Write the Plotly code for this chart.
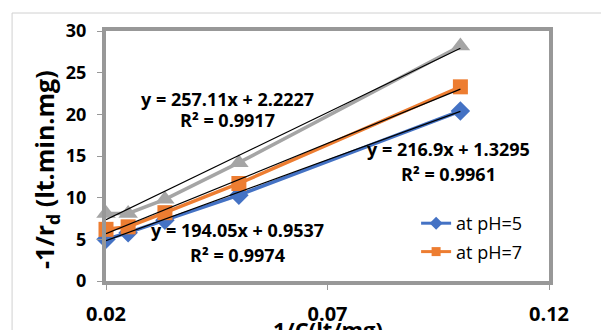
import plotly.graph_objects as go

x_vals = [0.02, 0.025, 0.0333, 0.05, 0.1]
ph5 = [5.0, 5.8, 7.3, 10.3, 20.4]
ph7 = [6.2, 6.5, 8.2, 11.7, 23.3]
ph9 = [8.1, 8.1, 9.8, 14.2, 28.2]

fits = {
    "ph5": (194.05, 0.9537),
    "ph7": (216.9, 1.3295),
    "ph9": (257.11, 2.2227),
}
x_tickvals = [0.02, 0.07, 0.12]
y_tickvals = [0, 5, 10, 15, 20, 25, 30]

BLUE = "#4472C4"
ORANGE = "#ED7D31"
GRAY = "#A5A5A5"
FONT = "Open Sans"

fig = go.Figure()
fig.add_trace(go.Scatter(x=x_vals, y=ph9, mode="lines+markers", name="at pH=9",
                         line=dict(color=GRAY, width=3.5), cliponaxis=False,
                         marker=dict(symbol="triangle-up", size=17, color=GRAY),
                         showlegend=False))
fig.add_trace(go.Scatter(x=x_vals, y=ph5, mode="lines+markers", name="at pH=5",
                         line=dict(color=BLUE, width=3.5), cliponaxis=False,
                         marker=dict(symbol="diamond", size=15, color=BLUE),
                         showlegend=False))
fig.add_trace(go.Scatter(x=x_vals, y=ph7, mode="lines+markers", name="at pH=7",
                         line=dict(color=ORANGE, width=3.5), cliponaxis=False,
                         marker=dict(symbol="square", size=15, color=ORANGE),
                         showlegend=False))

# legend entries (smaller symbols, as in the reference legend)
fig.add_trace(go.Scatter(x=[None], y=[None], mode="lines+markers", name="at pH=5",
                         legendgroup="a", line=dict(color=BLUE, width=3),
                         marker=dict(symbol="diamond", size=10, color=BLUE)))
fig.add_trace(go.Scatter(x=[None], y=[None], mode="lines+markers", name="at pH=7",
                         legendgroup="b", line=dict(color=ORANGE, width=3),
                         marker=dict(symbol="square", size=9, color=ORANGE)))

# trendlines
for key in ["ph9", "ph7", "ph5"]:
    m, b = fits[key]
    xs = [x_vals[0], x_vals[-1]]
    fig.add_trace(go.Scatter(x=xs, y=[m * v + b for v in xs], mode="lines",
                             line=dict(color="black", width=1.2), showlegend=False,
                             cliponaxis=False, hoverinfo="skip"))

ann_font = dict(family=FONT, size=18, color="black")
annotations = [
    dict(x=0.0474, y=21.84, text="<b>y = 257.11x + 2.2227</b>"),
    dict(x=0.0474, y=19.32, text="<b>R² = 0.9917</b>"),
    dict(x=0.0497, y=6.18, text="<b>y = 194.05x + 0.9537</b>"),
    dict(x=0.0497, y=3.12, text="<b>R² = 0.9974</b>"),
    dict(x=0.0974, y=15.84, text="<b>y = 216.9x + 1.3295</b>"),
    dict(x=0.0974, y=12.84, text="<b>R² = 0.9961</b>"),
]
anns = []
for a in annotations:
    anns.append(dict(x=a["x"], y=a["y"], xref="x", yref="y", text=a["text"],
                     showarrow=False, font=ann_font, xanchor="center", yanchor="middle"))

# axis titles
anns.append(dict(x=-0.135, y=0.445, xref="paper", yref="paper",
                 text="<b>-1/r<sub>d</sub> (lt.min.mg)</b>", textangle=-90,
                 showarrow=False, font=dict(family=FONT, size=25, color="black"),
                 xanchor="center", yanchor="middle"))
anns.append(dict(x=0.5, y=-0.125, xref="paper", yref="paper",
                 text="<b>1/C(lt/mg)</b>", showarrow=False,
                 font=dict(family=FONT, size=22, color="black"),
                 xanchor="center", yanchor="top"))

fig.update_layout(
    width=601, height=330,
    margin=dict(l=106, r=52, t=31, b=49, autoexpand=False),
    paper_bgcolor="white", plot_bgcolor="white",
    font=dict(family=FONT, color="black"),
    annotations=anns,
    legend=dict(x=0.70, y=0.304, xanchor="left", yanchor="top",
                bgcolor="rgba(0,0,0,0)", font=dict(family=FONT, size=18, color="black"),
                traceorder="grouped", tracegroupgap=2),
    shapes=[dict(type="rect", xref="paper", yref="paper",
                 x0=-0.212, x1=1.3, y0=-0.4, y1=1.072,
                 line=dict(color="#D0D0D0", width=1), layer="below")],
)
fig.update_xaxes(range=[0.02, 0.12], tickvals=x_tickvals, ticktext=["0.02", "0.07", "0.12"],
                 automargin=False,
                 showgrid=False, zeroline=False, showline=True, mirror=True,
                 linecolor="#989898", linewidth=4, ticks="outside", ticklen=5,
                 tickcolor="#989898", tickwidth=1, ticklabelstandoff=7,
                 tickfont=dict(family=FONT, size=20, color="black", weight="bold"))
fig.update_yaxes(range=[0, 30], tickvals=y_tickvals,
                 automargin=False,
                 showgrid=False, zeroline=False, showline=True, mirror=True,
                 linecolor="#989898", linewidth=4, ticks="outside", ticklen=5,
                 tickcolor="#989898", tickwidth=1, ticklabelstandoff=7,
                 tickfont=dict(family=FONT, size=18, color="black", weight="bold"))

fig.write_html("out.html", config={"displayModeBar": False},
               post_script="document.body.style.margin='0';document.body.style.overflow='hidden';")
